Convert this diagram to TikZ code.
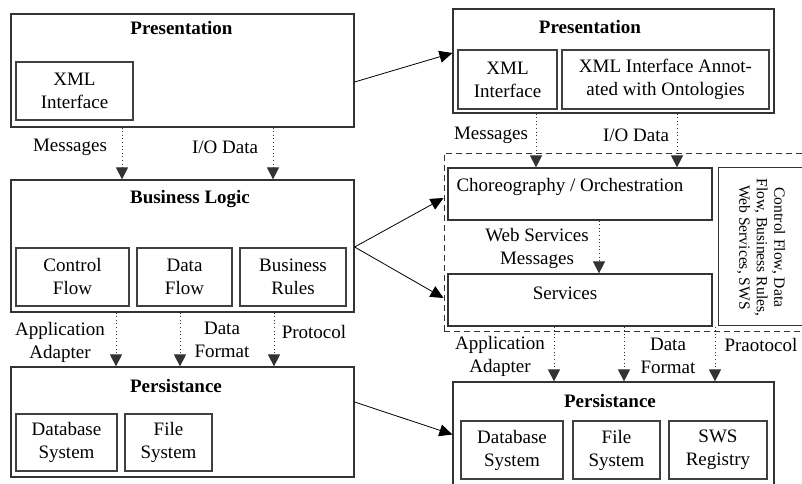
\documentclass[tikz,border=0pt]{standalone}
\usepackage{fontspec}
\setmainfont{Liberation Serif}
\usetikzlibrary{arrows.meta}
\newdimen\px \px=0.75pt
\newcommand{\bodyfont}{\fontsize{14.25pt}{17.25pt}\selectfont}
\newcommand{\sidefont}{\fontsize{11.7pt}{13.1pt}\selectfont}
\begin{document}
\begin{tikzpicture}[x=0.75pt,y=-0.75pt,
  outerbox/.style={draw=black!80, line width=0.9pt, inner sep=0pt},
  innerbox/.style={draw=black!75, line width=0.8pt, inner sep=0pt, align=center, font=\bodyfont},
  zone/.style={draw=black!80, line width=0.7pt, dash pattern=on 4.5pt off 3pt, inner sep=0pt},
  title/.style={inner sep=0pt, font=\bodyfont\bfseries},
  txt/.style={inner sep=0pt, align=center, font=\bodyfont},
  flow/.style={draw=black!80, dotted, line width=0.7pt, -{Triangle[length=9pt,width=9pt]}},
  link/.style={draw=black, line width=0.6pt, -{Triangle[length=9.75pt,width=9pt]}}]
\useasboundingbox (0,0) rectangle (802,484);
\clip (0,0) rectangle (802,484);
\fill[white] (0,0) rectangle (802,484);

% ---------- left column: classic three-tier application ----------
\node[outerbox, minimum width=343\px, minimum height=113\px] (lpres) at (182.5,70.5) {};
\node[title] (lprest) at (181.5,28) {Presentation};
\node[innerbox, minimum width=117\px, minimum height=58\px] (lpxml) at (74.5,91) {XML\\Interface};

\node[outerbox, minimum width=343\px, minimum height=132\px] (lbl) at (182.5,246) {};
\node[title] (lblt) at (190,199) {Business Logic};
\node[innerbox, minimum width=113\px, minimum height=58\px] (lcf) at (72.5,277) {Control\\Flow};
\node[innerbox, minimum width=95\px, minimum height=58\px] (ldf) at (184.5,277) {Data\\Flow};
\node[innerbox, minimum width=106\px, minimum height=58\px] (lbr) at (293,277) {Business\\Rules};

\node[outerbox, minimum width=343\px, minimum height=110\px] (lper) at (182.5,422) {};
\node[title] (lpert) at (176,386) {Persistance};
\node[innerbox, minimum width=101\px, minimum height=57\px] (ldb) at (66.5,442.5) {Database\\System};
\node[innerbox, minimum width=87\px, minimum height=57\px] (lfs) at (168.5,442.5) {File\\System};

% ---------- right column: semantic web service based application ----------
\node[outerbox, minimum width=321\px, minimum height=104\px] (rpres) at (613.5,61) {};
\node[title] (rprest) at (590,27) {Presentation};
\node[innerbox, minimum width=99\px, minimum height=59\px] (rxml) at (507.5,79.5) {XML\\Interface};
\node[innerbox, minimum width=207\px, minimum height=59\px] (rann) at (665.5,79.5) {XML Interface Annot-\\ated with Ontologies};

\node[zone, minimum width=370\px, minimum height=178\px] (rmid) at (629,242) {};
\node[outerbox, minimum width=264\px, minimum height=52\px] (rchor) at (580,194) {};
\node[txt] (rchort) at (570,187) {Choreography / Orchestration};
\node[outerbox, minimum width=264\px, minimum height=52\px] (rserv) at (580,300) {};
\node[txt] (rservt) at (565,293) {Services};
% side panel: open on its right, where it runs off the edge
\node[inner sep=0pt, minimum width=100\px, minimum height=157\px] (rside) at (769,246.5) {};
\draw[draw=black!80, line width=0.9pt] (rside.north east) -- (rside.north west)
  -- (rside.south west) -- (rside.south east);
\node[inner sep=0pt, align=center, font=\sidefont, rotate=-90] (rsidet) at (761,247.5)
  {Control Flow, Data\\Flow, Business Rules,\\Web Services, SWS};

\node[outerbox, minimum width=321\px, minimum height=105\px] (rper) at (613.5,434.5) {};
\node[title] (rpert) at (610,401) {Persistance};
\node[innerbox, minimum width=102\px, minimum height=58\px] (rdb) at (512,450) {Database\\System};
\node[innerbox, minimum width=87\px, minimum height=58\px] (rfs) at (616.5,450) {File\\System};
\node[innerbox, minimum width=98\px, minimum height=58\px] (rsws) at (718,450) {SWS\\Registry};

% ---------- connector labels ----------
\node[txt] (lmsg) at (70,147) {Messages};
\node[txt] (lio) at (225,147) {I/O Data};
\node[txt] (lapp) at (60,342) {Application\\Adapter};
\node[txt] (ldfmt) at (222,340) {Data\\Format};
\node[txt] (lproto) at (314,332) {Protocol};

\node[txt] (rmsg) at (491,135) {Messages};
\node[txt] (rio) at (636,135) {I/O Data};
\node[txt] (wsm) at (537,248) {Web Services\\Messages};
\node[txt] (rapp) at (500,356) {Application\\Adapter};
\node[txt] (rdfmt) at (668,356) {Data\\Format};
\node[txt] (rproto) at (761,345) {Praotocol};

% ---------- x positions of the vertical dotted links ----------
\coordinate (xa) at (122,0);
\coordinate (xb) at (273,0);
\coordinate (xc) at (116,0);
\coordinate (xd) at (180,0);
\coordinate (xe) at (274,0);
\coordinate (xf) at (536,0);
\coordinate (xg) at (677,0);
\coordinate (xh) at (599,0);
\coordinate (xi) at (554,0);
\coordinate (xj) at (624,0);
\coordinate (xk) at (715,0);

\draw[flow] (lpres.south -| xa) -- (lbl.north -| xa);
\draw[flow] (lpres.south -| xb) -- (lbl.north -| xb);
\draw[flow] (lbl.south -| xc) -- (lper.north -| xc);
\draw[flow] (lbl.south -| xd) -- (lper.north -| xd);
\draw[flow] (lbl.south -| xe) -- (lper.north -| xe);

\draw[flow] (rpres.south -| xf) -- (rchor.north -| xf);
\draw[flow] (rpres.south -| xg) -- (rchor.north -| xg);
\draw[flow] (rchor.south -| xh) -- (rserv.north -| xh);
\draw[flow] (rserv.south -| xi) -- (rper.north -| xi);
\draw[flow] (rserv.south -| xj) -- (rper.north -| xj);
\draw[flow] (rserv.south -| xk) -- (rper.north -| xk);

% ---------- mapping from the left tiers to the right tiers ----------
\draw[link] ([yshift=-8.625pt]lpres.east) -- ([yshift=6pt]rpres.west);
\draw[link] ([yshift=-0.75pt]lbl.east) -- ([yshift=33pt]rmid.west);
\draw[link] ([yshift=-0.75pt]lbl.east) -- ([yshift=-42pt]rmid.west);
\draw[link] ([yshift=15pt]lper.east) -- (rper.west);
\end{tikzpicture}
\end{document}
